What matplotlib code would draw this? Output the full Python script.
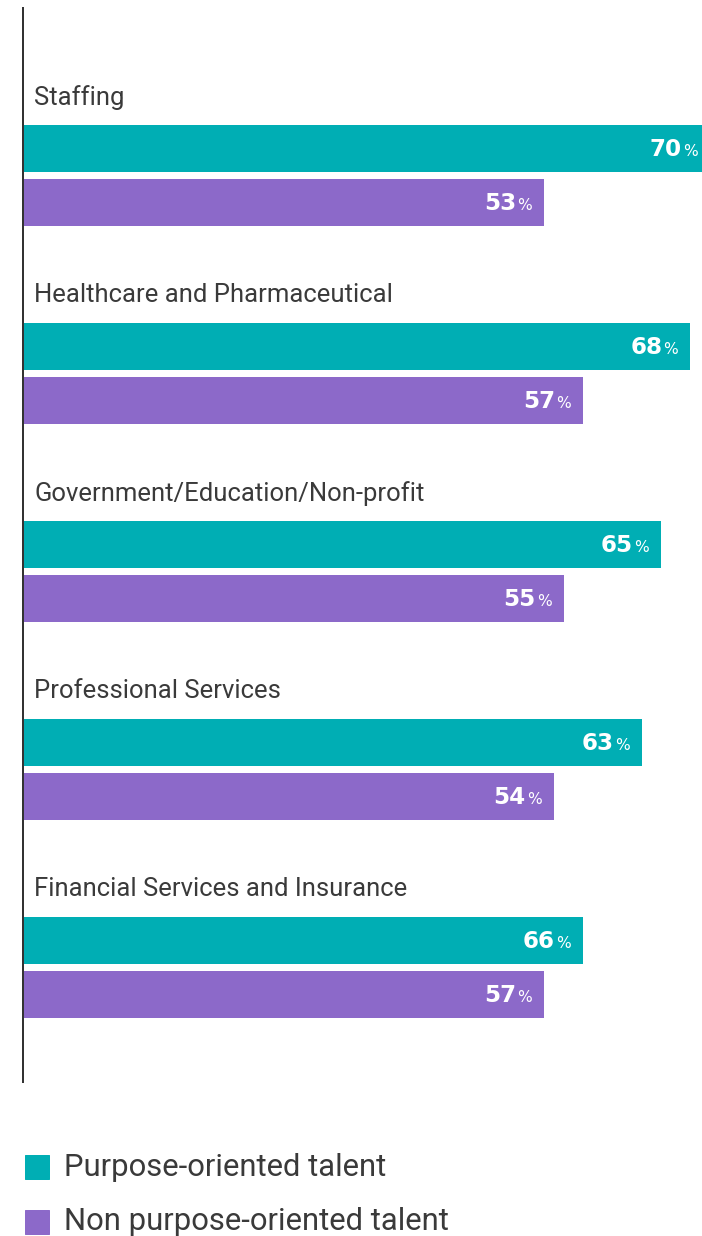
import numpy as np
import matplotlib.pyplot as plt

# data
categories = ['Staffing', 'Healthcare and Pharmaceutical', 'Government/Education/Non-profit',
              'Professional Services', 'Financial Services and Insurance']
purpose_pct = [70, 68, 65, 63, 66]
non_purpose_pct = [53, 57, 55, 54, 57]
# bar lengths as drawn in the source (the last group's bars are drawn shorter than their labels)
purpose_len = [70, 68, 65, 63, 57]
non_purpose_len = [53, 57, 55, 54, 53]
series_names = ['Purpose-oriented talent', 'Non purpose-oriented talent']

teal = '#00aeb4'
purple = '#8c69c9'
dark = '#3a3a3a'

W, H = 702, 1236
fig = plt.figure(figsize=(W / 72, H / 72), dpi=72)

# axes in pixel terms: spine at x=23, y from 8 to 1082
ax_l, ax_r, ax_t, ax_b = 23, 702, 8, 1082
ax = fig.add_axes([ax_l / W, 1 - ax_b / H, (ax_r - ax_l) / W, (ax_b - ax_t) / H])
x0 = -0.43
ax.set_xlim(x0, 69.2)
ax.set_ylim(ax_b, ax_t)

step = 198
n = len(categories)
idx = np.arange(n)
y_teal = 148.5 + step * idx
y_purp = y_teal + 54
bh = 47

ax.barh(y_teal, np.array(purpose_len) - x0, left=x0, height=bh, color=teal, zorder=1)
ax.barh(y_purp, np.array(non_purpose_len) - x0, left=x0, height=bh, color=purple, zorder=1)

for i in range(n):
    ax.annotate(categories[i], (0, y_teal[i] - 51), xytext=(7, 0), textcoords='offset points',
                ha='left', va='center', fontsize=25.6, color=dark, family='Roboto')
    for y, ln, pct in [(y_teal[i], purpose_len[i], purpose_pct[i]),
                       (y_purp[i], non_purpose_len[i], non_purpose_pct[i])]:
        ax.annotate('%', (ln, y), xytext=(-12, -7), textcoords='offset points',
                    ha='right', va='baseline', fontsize=15.5, color='white',
                    family='DejaVu Sans', annotation_clip=False)
        ax.annotate(str(pct), (ln, y), xytext=(-28, -7), textcoords='offset points',
                    ha='right', va='baseline', fontsize=23, color='white',
                    family='DejaVu Sans', fontweight='bold', annotation_clip=False)

for s in ['top', 'right', 'bottom']:
    ax.spines[s].set_visible(False)
ax.spines['left'].set_color('#333333')
ax.spines['left'].set_linewidth(2)
ax.set_xticks([])
ax.set_yticks([])

# legend
for j, (name, c) in enumerate(zip(series_names, [teal, purple])):
    yc = 1167 + 55 * j
    fig.patches.append(plt.Rectangle((25 / W, 1 - (yc + 12) / H), 24 / W, 24 / H,
                                     transform=fig.transFigure, color=c))
    fig.text(64 / W, 1 - yc / H, name, ha='left', va='center', fontsize=31,
             color=dark, family='Roboto')

fig.savefig('out.png', dpi=72)
